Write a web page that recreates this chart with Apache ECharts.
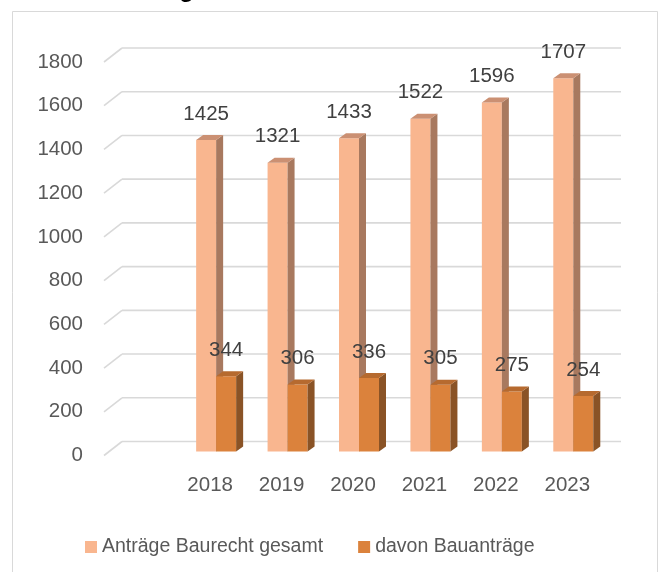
<!DOCTYPE html>
<html><head><meta charset="utf-8">
<script src="https://cdn.jsdelivr.net/npm/echarts@6/dist/echarts.min.js"></script>
<style>html,body{margin:0;padding:0;background:#fff}#c{width:662px;height:572px}</style>
</head><body><div id="c"></div>
<script>
// ---- data ----
const categories = ['', '2018', '2019', '2020', '2021', '2022', '2023'];
const totalValues = [null, 1425, 1321, 1433, 1522, 1596, 1707];
const bauValues = [null, 344, 306, 336, 305, 275, 254];
const yTicks = [0, 200, 400, 600, 800, 1000, 1200, 1400, 1600, 1800];
const seriesNames = ['Anträge Baurecht gesamt', 'davon Bauanträge'];
const titleText = 'Entwicklung';

// ---- style ----
const FONT = '"Liberation Sans", Arial, sans-serif';
const TXT = '#595959';
const WALL_DX = 18, WALL_DY = -14;   // depth of back wall
const BAR_DX = 6, BAR_DY = -4;       // bar plane offset from front
const BW = 20;                       // bar width
const BDX = 7, BDY = -5;             // bar depth
const palette = [
  { front: '#F9B68F', side: '#A8795F', top: '#CB9073' },
  { front: '#DB823C', side: '#8A5326', top: '#B66A2F' }
];

function renderGrid(params, api) {
  const v = api.value(1);
  const cs = params.coordSys;
  const y = api.coord([0, v])[1];
  const x0 = cs.x + 1, x1 = cs.x + cs.width;
  const st = { stroke: '#D9D9D9', lineWidth: 1.6, fill: null };
  return { type: 'group', children: [
    { type: 'line', shape: { x1: x0, y1: y, x2: x0 + WALL_DX, y2: y + WALL_DY }, style: st },
    { type: 'line', shape: { x1: x0 + WALL_DX, y1: y + WALL_DY, x2: x1 + WALL_DX, y2: y + WALL_DY }, style: st }
  ]};
}

function makeBar(side) {
  return function (params, api) {
    const i = api.value(0), v = api.value(1);
    if (v == null || isNaN(v)) return null;
    const p = api.coord([i, v]);
    const b = api.coord([i, 0]);
    const cx = p[0] + BAR_DX;
    const xl = side === 0 ? cx - BW : cx;
    const xr = xl + BW;
    const yt = p[1] + BAR_DY, yb = b[1] + BAR_DY;
    const c = palette[side];
    return { type: 'group', children: [
      { type: 'rect', shape: { x: xl, y: yt, width: BW, height: yb - yt }, style: { fill: c.front } },
      { type: 'polygon', shape: { points: [[xr, yt], [xr + BDX, yt + BDY], [xr + BDX, yb + BDY], [xr, yb]] }, style: { fill: c.side } },
      { type: 'polygon', shape: { points: [[xl, yt], [xl + BDX, yt + BDY], [xr + BDX, yt + BDY], [xr, yt]] }, style: { fill: c.top } },
      { type: 'text', z2: 50, style: { text: String(v), x: (xl + xr) / 2, y: yt - 26, align: 'center', verticalAlign: 'middle',
        fontSize: 20.5, fontFamily: FONT, fill: '#404040' } }
    ]};
  };
}

const chart = echarts.init(document.getElementById('c'), null, { renderer: 'canvas' });
chart.setOption({
  animation: false,
  backgroundColor: '#fff',
  graphic: [
    { type: 'rect', shape: { x: 12.5, y: 11.5, width: 645, height: 620 }, style: { fill: 'none', stroke: '#D9D9D9', lineWidth: 1 }, z: -10 },
    { type: 'text', style: { text: titleText, x: 194, y: 2, align: 'right', verticalAlign: 'bottom',
      fontSize: 24, fontWeight: 'bold', fontFamily: FONT, fill: '#000' } }
  ],
  grid: { left: 103, right: 59, top: 62, bottom: 116.5 },
  xAxis: {
    type: 'category', data: categories,
    axisLine: { show: false }, axisTick: { show: false }, splitLine: { show: false },
    axisLabel: { color: TXT, fontSize: 20.5, fontFamily: FONT, margin: 19, interval: 0 }
  },
  yAxis: {
    type: 'value', min: 0, max: 1800, interval: 200,
    axisLine: { show: false }, axisTick: { show: false }, splitLine: { show: false },
    axisLabel: { color: TXT, fontSize: 20.5, fontFamily: FONT, margin: 20, formatter: v => String(v) }
  },
  legend: {
    left: 80, top: 532, itemWidth: 12, itemHeight: 12, itemGap: 35, icon: 'rect',
    textStyle: { color: TXT, fontSize: 19.5, fontFamily: FONT },
    data: seriesNames
  },
  series: [
    { type: 'custom', name: '_grid', renderItem: renderGrid, data: yTicks.map(v => [0, v]), encode: { x: 0, y: 1 }, z: 1, silent: true },
    { type: 'custom', name: seriesNames[0], renderItem: makeBar(0), itemStyle: { color: palette[0].front },
      data: totalValues.map((v, i) => [i, v]), encode: { x: 0, y: 1 }, z: 2 },
    { type: 'custom', name: seriesNames[1], renderItem: makeBar(1), itemStyle: { color: palette[1].front },
      data: bauValues.map((v, i) => [i, v]), encode: { x: 0, y: 1 }, z: 3 }
  ]
});
</script>
</body></html>
